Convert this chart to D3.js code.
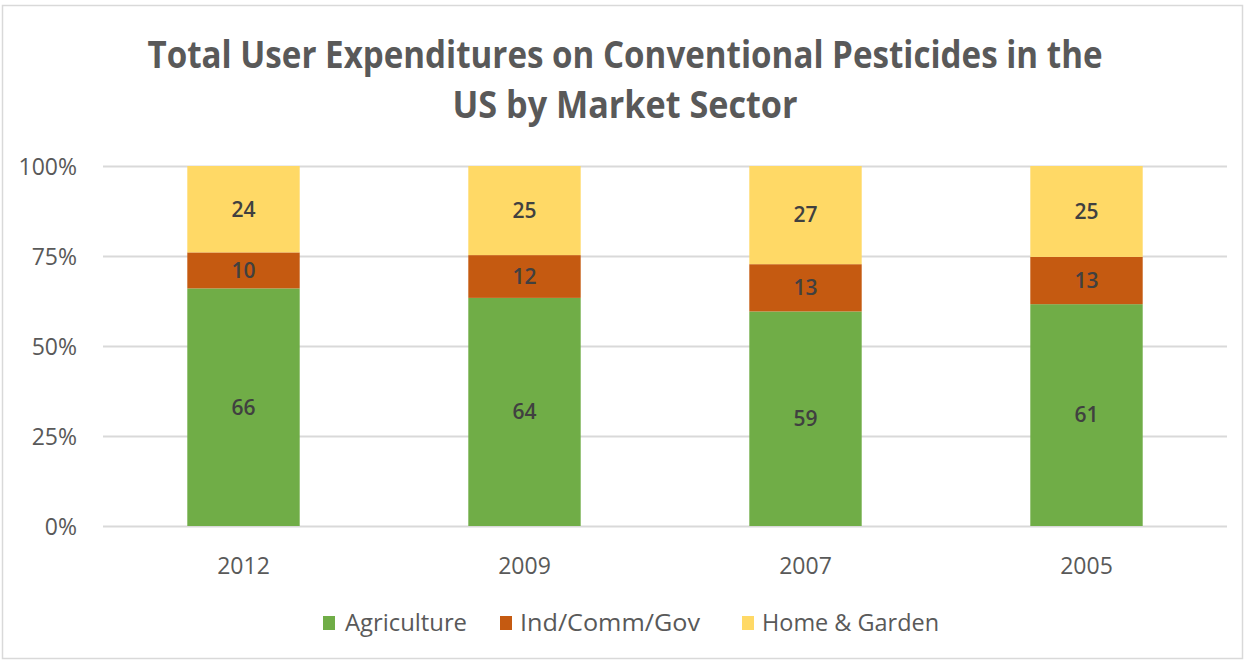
<!DOCTYPE html>
<html><head><meta charset="utf-8">
<script src="https://cdn.jsdelivr.net/npm/d3@7"></script>
<style>body{margin:0;background:#fff;} svg{display:block;}</style>
</head><body>
<script>
const categories = ["2012", "2009", "2007", "2005"];
const seriesNames = ["Agriculture", "Ind/Comm/Gov", "Home & Garden"];
const agriculture = [66, 64, 59, 61];
const indCommGov = [10, 12, 13, 13];
const homeGarden = [24, 25, 27, 25];
const yTickValues = [0, 0.25, 0.5, 0.75, 1];
const colors = ["#70AD47", "#C55A11", "#FFD966"];

const W = 1249, H = 661;
const svg = d3.select("body").append("svg").attr("width", W).attr("height", H);
svg.append("rect").attr("x", 2.5).attr("y", 5.5).attr("width", 1240).attr("height", 653)
  .attr("fill", "#fff").attr("stroke", "#d9d9d9").attr("stroke-width", 1.5);

const font = "'Open Sans', sans-serif";
const m = {left: 103, right: 1227, top: 166, bottom: 526};

// title
const title = svg.append("text").attr("fill", "#595959").attr("font-family", font)
  .attr("font-weight", "bold").attr("font-size", 37).attr("text-anchor", "middle");
title.append("tspan").attr("x", 625).attr("y", 68).text("Total User Expenditures on Conventional Pesticides in the")
  .attr("textLength", 955).attr("lengthAdjust", "spacingAndGlyphs");
title.append("tspan").attr("x", 625).attr("y", 118).text("US by Market Sector")
  .attr("textLength", 345).attr("lengthAdjust", "spacingAndGlyphs");

const rows = categories.map((c, i) => ({cat: c, "Agriculture": agriculture[i], "Ind/Comm/Gov": indCommGov[i], "Home & Garden": homeGarden[i]}));
const stack = d3.stack().keys(seriesNames).offset(d3.stackOffsetExpand);
const stacked = stack(rows);

const x = d3.scaleBand().domain(categories).range([m.left, m.right]).paddingInner(0.6).paddingOuter(0.3);
const y = d3.scaleLinear().domain([0, 1]).range([m.bottom, m.top]);

// gridlines
svg.append("g").selectAll("line").data(yTickValues).join("line")
  .attr("x1", m.left).attr("x2", m.right)
  .attr("y1", d => y(d) + 0.5).attr("y2", d => y(d) + 0.5)
  .attr("stroke", "#d9d9d9").attr("stroke-width", 2);

// y axis
const yAxis = svg.append("g").attr("transform", `translate(${m.left - 26},0)`)
  .call(d3.axisLeft(y).tickValues(yTickValues).tickFormat(d3.format(".0%")).tickSize(0).tickPadding(0));
yAxis.select(".domain").remove();
yAxis.selectAll("text").attr("fill", "#595959").attr("font-family", font).attr("font-size", 23).attr("dy", "0.35em");

// x axis
const xAxis = svg.append("g").attr("transform", `translate(0,${m.bottom})`)
  .call(d3.axisBottom(x).tickSize(0).tickPadding(32));
xAxis.select(".domain").remove();
xAxis.selectAll("text").attr("fill", "#595959").attr("font-family", font).attr("font-size", 23);

// bars
const layers = svg.append("g").selectAll("g").data(stacked).join("g").attr("fill", (d, i) => colors[i]);
layers.selectAll("rect").data(d => d).join("rect")
  .attr("x", d => x(d.data.cat)).attr("width", x.bandwidth())
  .attr("y", d => y(d[1])).attr("height", d => y(d[0]) - y(d[1]));

// labels
const lab = svg.append("g");
stacked.forEach((layer) => {
  lab.selectAll(null).data(layer).join("text")
    .attr("x", d => x(d.data.cat) + x.bandwidth() / 2)
    .attr("y", d => (y(d[0]) + y(d[1])) / 2)
    .attr("dy", "0.35em").attr("text-anchor", "middle")
    .attr("font-family", font).attr("font-size", 21).attr("font-weight", 600).attr("fill", "#404040")
    .text(d => d.data[layer.key]);
});

// legend
const legendX = [323, 500, 742];
const legendW = [122, 180, 177];
const lg = svg.append("g").selectAll("g").data(seriesNames).join("g")
  .attr("transform", (d, i) => `translate(${legendX[i]},623)`);
lg.append("rect").attr("x", 0).attr("y", -7).attr("width", 12).attr("height", 14).attr("fill", (d, i) => colors[i]);
lg.append("text").attr("x", (d, i) => i === 0 ? 22 : 20).attr("dy", "0.35em").attr("font-family", font).attr("font-size", 23)
  .attr("textLength", (d, i) => legendW[i]).attr("lengthAdjust", "spacingAndGlyphs")
  .attr("fill", "#595959").text(d => d);
</script>
</body></html>
